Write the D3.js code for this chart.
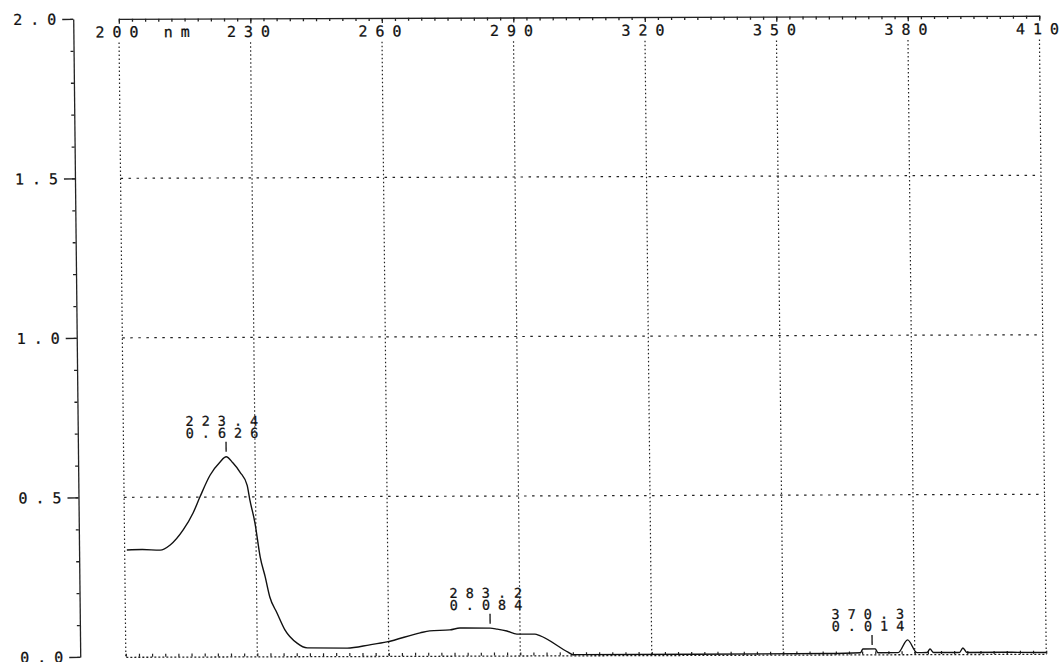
<!DOCTYPE html>
<html>
<head>
<meta charset="utf-8">
<script src="https://cdn.jsdelivr.net/npm/d3@7"></script>
<style>
  html, body { margin: 0; padding: 0; background: #fff; }
  svg { display: block; }
  text { font-family: "DejaVu Sans Mono", "Liberation Mono", monospace; font-size: 15px; letter-spacing: 8px; fill: #111; stroke: #111; stroke-width: 0.25px; }
  text.peak { font-size: 13.5px; letter-spacing: 8px; }
</style>
</head>
<body>
<div id="chart"></div>
<script>
// spectrum trace
const wavelength = [200.5, 204, 208.1, 210.4, 213.4, 215.7, 217.3, 219.7, 222.0, 223.4, 224.9, 226.5, 228.1, 228.7, 229.8,
  230.9, 232.0, 233.0, 234.6, 236.4, 239.1, 241.4, 250.5, 255.7, 259.6, 267.2, 269.4, 274.0, 276.3, 283.2, 284.8, 287.0,
  289.3, 293.4, 294.5, 300.9, 302.0, 330, 360, 367.6, 368.2, 371.0, 371.6, 376.2, 378.4, 380.5, 382.8, 383.5, 384.3,
  390.2, 391.0, 391.9, 400, 410];
const absorbance = [0.335, 0.336, 0.334, 0.350, 0.397, 0.450, 0.500, 0.569, 0.610, 0.626, 0.607, 0.578, 0.537, 0.490, 0.418,
  0.312, 0.249, 0.186, 0.136, 0.082, 0.041, 0.026, 0.025, 0.035, 0.044, 0.072, 0.078, 0.081, 0.087, 0.086, 0.083, 0.077,
  0.067, 0.067, 0.062, 0.010, 0.002, 0.002, 0.003, 0.005, 0.017, 0.017, 0.005, 0.005, 0.045, 0.005, 0.005, 0.016, 0.005,
  0.005, 0.019, 0.005, 0.005, 0.004];

// peak picks printed by the instrument
const peakNm = [223.4, 283.2, 370.3];
const peakAbs = [0.626, 0.084, 0.014];

const xTicks = [200, 230, 260, 290, 320, 350, 380, 410];
const yTicks = [0, 0.5, 1.0, 1.5, 2.0];
const yLabels = ["0.0", "0.5", "1.0", "1.5", "2.0"];

const width = 1060, height = 662;

const x = d3.scaleLinear().domain([200, 410]).range([118.6, 1039]);
const y = d3.scaleLinear().domain([0, 2]).range([657.2, 19.2]);

const svg = d3.select("#chart").append("svg")
  .attr("width", width)
  .attr("height", height);

// the scan is slightly skewed, so the whole plot is too
const g = svg.append("g").attr("transform", "matrix(1,-0.0033,0.011,1,0,0)");

// grid
g.append("g").selectAll("line")
  .data(xTicks)
  .enter().append("line")
  .attr("x1", d => x(d)).attr("x2", d => x(d))
  .attr("y1", 43).attr("y2", y(0))
  .attr("stroke", "#222").attr("stroke-width", 1.2)
  .attr("stroke-dasharray", "1.5,2.5");

g.append("g").selectAll("line")
  .data([0.5, 1.0, 1.5])
  .enter().append("line")
  .attr("x1", x(200)).attr("x2", x(410))
  .attr("y1", d => y(d)).attr("y2", d => y(d))
  .attr("stroke", "#222").attr("stroke-width", 1.2)
  .attr("stroke-dasharray", "2.5,5.5");

// left axis
const axisX = 73;
const yMinor = d3.range(0, 2.001, 0.1);
g.append("g")
  .attr("transform", `translate(${axisX},0)`)
  .call(d3.axisLeft(y).tickValues(yMinor).tickSize(3).tickSizeOuter(0).tickFormat(""))
  .call(a => a.selectAll("line,path").attr("stroke", "#222").attr("stroke-width", 1.3));

const yAxis = g.append("g")
  .attr("transform", `translate(${axisX},0)`)
  .call(d3.axisLeft(y).tickValues(yTicks).tickSize(11).tickSizeOuter(0)
    .tickFormat((d, i) => yLabels[i]));
yAxis.select(".domain").remove();
yAxis.selectAll("line").attr("stroke", "#222").attr("stroke-width", 1.3);
yAxis.selectAll("text")
  .attr("x", -9).attr("dy", "0.35em")
  .attr("font-family", null).attr("font-size", null).attr("fill", null);

// top axis
const nmMinor = d3.range(200, 410.1, 3);
g.append("g")
  .attr("transform", `translate(0,${y(2)})`)
  .call(d3.axisBottom(x).tickValues(nmMinor).tickSize(3).tickSizeOuter(0).tickFormat(""))
  .call(a => a.selectAll("line,path").attr("stroke", "#222").attr("stroke-width", 1.3));

const topAxis = g.append("g")
  .attr("transform", `translate(0,${y(2)})`)
  .call(d3.axisBottom(x).tickValues(xTicks).tickSize(5).tickSizeOuter(0)
    .tickFormat(d => d === 200 ? "200 nm" : String(d)));
topAxis.select(".domain").remove();
topAxis.selectAll("line").attr("stroke", "#222").attr("stroke-width", 1.3);
topAxis.selectAll("text")
  .attr("text-anchor", "start")
  .attr("x", -24).attr("y", 18.5).attr("dy", null)
  .attr("font-family", null).attr("font-size", null).attr("fill", null);

// bottom axis, dotted with small ticks
const bottomAxis = g.append("g")
  .attr("transform", `translate(0,${y(0)})`)
  .call(d3.axisTop(x).tickValues(nmMinor).tickSize(3).tickSizeOuter(0).tickFormat(""));
bottomAxis.selectAll("line").attr("stroke", "#222").attr("stroke-width", 1.2);
bottomAxis.select(".domain").attr("stroke", "#222").attr("stroke-width", 1.3).attr("stroke-dasharray", "2,2");

// spectrum
const points = wavelength.map((w, i) => [w, absorbance[i]]);
const line = d3.line()
  .x(d => x(d[0]))
  .y(d => y(d[1]))
  .curve(d3.curveMonotoneX);

g.append("path")
  .datum(points)
  .attr("d", line)
  .attr("fill", "none")
  .attr("stroke", "#111")
  .attr("stroke-width", 1.4);

// peak marks and labels
const peaks = g.append("g").selectAll("g")
  .data(peakNm.map((w, i) => ({ w, a: peakAbs[i] })))
  .enter().append("g");

peaks.append("line")
  .attr("x1", d => x(d.w)).attr("x2", d => x(d.w))
  .attr("y1", d => y(d.a) - 15).attr("y2", d => y(d.a) - 5)
  .attr("stroke", "#222").attr("stroke-width", 1.4);

peaks.append("text")
  .attr("class", "peak")
  .attr("x", d => x(d.w)).attr("y", d => y(d.a) - 31)
  .attr("text-anchor", "middle")
  .text(d => d.w.toFixed(1));

peaks.append("text")
  .attr("class", "peak")
  .attr("x", d => x(d.w)).attr("y", d => y(d.a) - 19)
  .attr("text-anchor", "middle")
  .text(d => d.a.toFixed(3));
</script>
</body>
</html>
